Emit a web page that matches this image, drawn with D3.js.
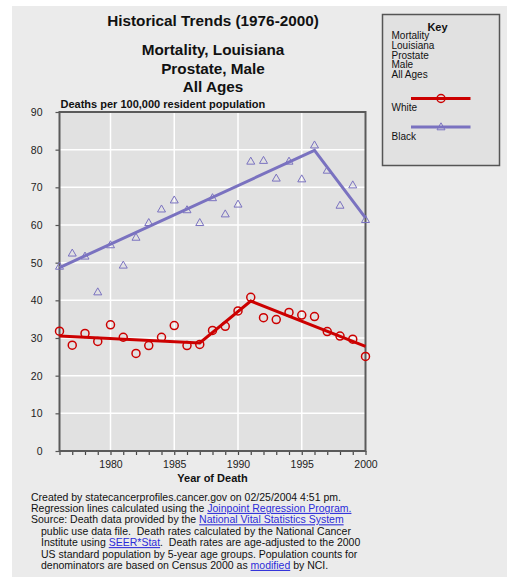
<!DOCTYPE html>
<html>
<head>
<meta charset="utf-8">
<script src="https://cdn.jsdelivr.net/npm/d3@7"></script>
<style>
  html, body { margin: 0; padding: 0; background: #ffffff; }
  svg { display: block; font-family: "Liberation Sans", Arial, Helvetica, sans-serif; }
  .link { fill: #2b2bd9; text-decoration: underline; }
</style>
</head>
<body>
<div id="chart"></div>
<script>
// Age-adjusted prostate cancer mortality, Louisiana, by race, 1976-2000
const years = [1976,1977,1978,1979,1980,1981,1982,1983,1984,1985,1986,1987,1988,
               1989,1990,1991,1992,1993,1994,1995,1996,1997,1998,1999,2000];
const whiteRates = [31.8,28.1,31.2,29.1,33.5,30.2,25.9,28.0,30.2,33.3,28.0,28.3,32.0,
                    33.1,37.2,40.8,35.4,34.9,36.8,36.1,35.7,31.7,30.5,29.7,25.1];
const blackRates = [49.0,52.5,51.7,42.2,54.7,49.3,56.7,60.6,64.2,66.6,64.0,60.6,67.2,
                    62.9,65.5,76.9,77.1,72.4,76.9,72.2,81.2,74.5,65.2,70.6,61.4];

// Joinpoint regression fits (joinpoint years and fitted rates)
const whiteJoinYears = [1976, 1987, 1991, 2000];
const whiteJoinRates = [30.5, 28.7, 39.8, 27.8];
const blackJoinYears = [1976, 1996, 2000];
const blackJoinRates = [48.7, 79.8, 61.9];

const yTicks = [0,10,20,30,40,50,60,70,80,90];
const xLabelTicks = [1980,1985,1990,1995,2000];

const titleLines = ["Mortality, Louisiana", "Prostate, Male", "All Ages"];
const keyLines = ["Mortality", "Louisiana", "Prostate", "Male", "All Ages"];
const seriesNames = ["White", "Black"];

const footer = [
  {indent: 0, parts: [["Created by statecancerprofiles.cancer.gov on 02/25/2004 4:51 pm.", false]]},
  {indent: 0, parts: [["Regression lines calculated using the ", false], ["Joinpoint Regression Program.", true]]},
  {indent: 0, parts: [["Source: Death data provided by the ", false], ["National Vital Statistics System", true]]},
  {indent: 1, parts: [["public use data file.  Death rates calculated by the National Cancer", false]]},
  {indent: 1, parts: [["Institute using ", false], ["SEER*Stat", true], [".  Death rates are age-adjusted to the 2000", false]]},
  {indent: 1, parts: [["US standard population by 5-year age groups. Population counts for", false]]},
  {indent: 1, parts: [["denominators are based on Census 2000 as ", false], ["modified", true], [" by NCI.", false]]}
];

const W = 507, H = 577;
const WHITE_COLOR = "#cc0000";
const BLACK_COLOR = "#7a72c0";

const svg = d3.select("#chart").append("svg")
  .attr("width", W).attr("height", H);

// page panel
svg.append("rect").attr("x", 12).attr("y", 6).attr("width", W - 12).attr("height", H - 6)
  .attr("fill", "#ebebeb");

const x = d3.scaleLinear().domain([1976, 2000]).range([59.5, 365.5]);
const y = d3.scaleLinear().domain([0, 90]).range([451, 112]);

// plot background
svg.append("rect")
  .attr("x", x(1976)).attr("y", y(90))
  .attr("width", x(2000) - x(1976)).attr("height", y(0) - y(90))
  .attr("fill", "#e1e1e1");

// grid
const grid = svg.append("g").attr("stroke", "#ffffff").attr("stroke-width", 1.5);
grid.selectAll("line.h").data(yTicks.slice(1, -1)).join("line")
  .attr("x1", x(1976)).attr("x2", x(2000))
  .attr("y1", d => y(d)).attr("y2", d => y(d));
grid.selectAll("line.v").data(xLabelTicks.slice(0, -1)).join("line")
  .attr("x1", d => x(d)).attr("x2", d => x(d))
  .attr("y1", y(0)).attr("y2", y(90));

// axes
const yAxis = d3.axisLeft(y).tickValues(yTicks).tickSize(4).tickPadding(13)
  .tickFormat(d3.format("d"));
const gy = svg.append("g").attr("transform", `translate(${x(1976)},0)`).call(yAxis);
gy.select(".domain").remove();
gy.selectAll(".tick line").attr("stroke", "#555").attr("stroke-width", 1.2);
gy.selectAll(".tick text").attr("font-size", "10.5px").attr("fill", "#222")
  .attr("font-family", "Liberation Sans, Arial, sans-serif");

const xAxis = d3.axisBottom(x).tickValues(years).tickSize(4).tickPadding(6)
  .tickFormat(d => xLabelTicks.includes(d) ? String(d) : "");
const gx = svg.append("g").attr("transform", `translate(0,${y(0)})`).call(xAxis);
gx.select(".domain").remove();
gx.selectAll(".tick line").attr("stroke", "#444").attr("stroke-width", 1.2);
gx.selectAll(".tick text").attr("font-size", "10.5px").attr("fill", "#222")
  .attr("font-family", "Liberation Sans, Arial, sans-serif");

// plot frame
svg.append("rect")
  .attr("x", x(1976)).attr("y", y(90))
  .attr("width", x(2000) - x(1976)).attr("height", y(0) - y(90))
  .attr("fill", "none").attr("stroke", "#5a5a5a").attr("stroke-width", 2);

// regression lines
const line = d3.line().x(d => x(d[0])).y(d => y(d[1]));
svg.append("path")
  .attr("d", line(blackJoinYears.map((d, i) => [d, blackJoinRates[i]])))
  .attr("fill", "none").attr("stroke", BLACK_COLOR).attr("stroke-width", 3);
svg.append("path")
  .attr("d", line(whiteJoinYears.map((d, i) => [d, whiteJoinRates[i]])))
  .attr("fill", "none").attr("stroke", WHITE_COLOR).attr("stroke-width", 3);

// observed rates
const triPath = "M0,-4.2L4,2.8L-4,2.8Z";
svg.append("g").selectAll("path").data(years).join("path")
  .attr("transform", (d, i) => `translate(${x(d)},${y(blackRates[i])})`)
  .attr("d", triPath)
  .attr("fill", "none").attr("stroke", BLACK_COLOR).attr("stroke-width", 1);
svg.append("g").selectAll("circle").data(years).join("circle")
  .attr("cx", d => x(d)).attr("cy", (d, i) => y(whiteRates[i]))
  .attr("r", 4)
  .attr("fill", "none").attr("stroke", WHITE_COLOR).attr("stroke-width", 1.5);

// titles
svg.append("text").attr("x", 213).attr("y", 26).attr("text-anchor", "middle")
  .attr("font-size", "15.3px").attr("font-weight", "bold").attr("fill", "#111")
  .text("Historical Trends (1976-2000)");
svg.append("g").selectAll("text").data(titleLines).join("text")
  .attr("x", 213).attr("y", (d, i) => 55 + i * 18.5).attr("text-anchor", "middle")
  .attr("font-size", "15.3px").attr("font-weight", "bold").attr("fill", "#111")
  .text(d => d);

svg.append("text").attr("x", 60.5).attr("y", 108)
  .attr("font-size", "11px").attr("font-weight", "bold").attr("fill", "#111")
  .text("Deaths per 100,000 resident population");
svg.append("text").attr("x", 212.5).attr("y", 482).attr("text-anchor", "middle")
  .attr("font-size", "11px").attr("font-weight", "bold").attr("fill", "#111")
  .text("Year of Death");

// key box
const key = svg.append("g");
key.append("rect").attr("x", 382.5).attr("y", 14.5).attr("width", 117).attr("height", 151)
  .attr("fill", "#e1e1e1").attr("stroke", "#555").attr("stroke-width", 1.5);
key.append("text").attr("x", 437.5).attr("y", 30.5).attr("text-anchor", "middle")
  .attr("font-size", "11px").attr("font-weight", "bold").attr("fill", "#111").text("Key");
key.selectAll("text.k").data(keyLines).join("text").attr("class", "k")
  .attr("x", 391.5).attr("y", (d, i) => 39.3 + i * 9.7)
  .attr("font-size", "10px").attr("fill", "#111").text(d => d);

const keyY = [98.5, 127];
const keyColors = [WHITE_COLOR, BLACK_COLOR];
seriesNames.forEach((name, i) => {
  key.append("line").attr("x1", 411).attr("x2", 470.5)
    .attr("y1", keyY[i]).attr("y2", keyY[i])
    .attr("stroke", keyColors[i]).attr("stroke-width", 3);
  if (i === 0) {
    key.append("circle").attr("cx", 441).attr("cy", keyY[i]).attr("r", 4)
      .attr("fill", "none").attr("stroke", WHITE_COLOR).attr("stroke-width", 1.5);
  } else {
    key.append("path").attr("transform", `translate(441,${keyY[i]})`).attr("d", triPath)
      .attr("fill", "none").attr("stroke", BLACK_COLOR).attr("stroke-width", 1);
  }
  key.append("text").attr("x", 391.5).attr("y", keyY[i] + 12.5)
    .attr("font-size", "10px").attr("fill", "#111").text(name);
});

// footer notes
const foot = svg.append("g").attr("font-size", "10.5px").attr("fill", "#111");
footer.forEach((ln, i) => {
  const t = foot.append("text")
    .attr("x", 31 + ln.indent * 10).attr("y", 500.5 + i * 11.4)
    .attr("xml:space", "preserve");
  ln.parts.forEach(([s, isLink]) => {
    const sp = t.append("tspan").text(s);
    if (isLink) sp.attr("class", "link").attr("text-decoration", "underline");
  });
});
</script>
</body>
</html>
